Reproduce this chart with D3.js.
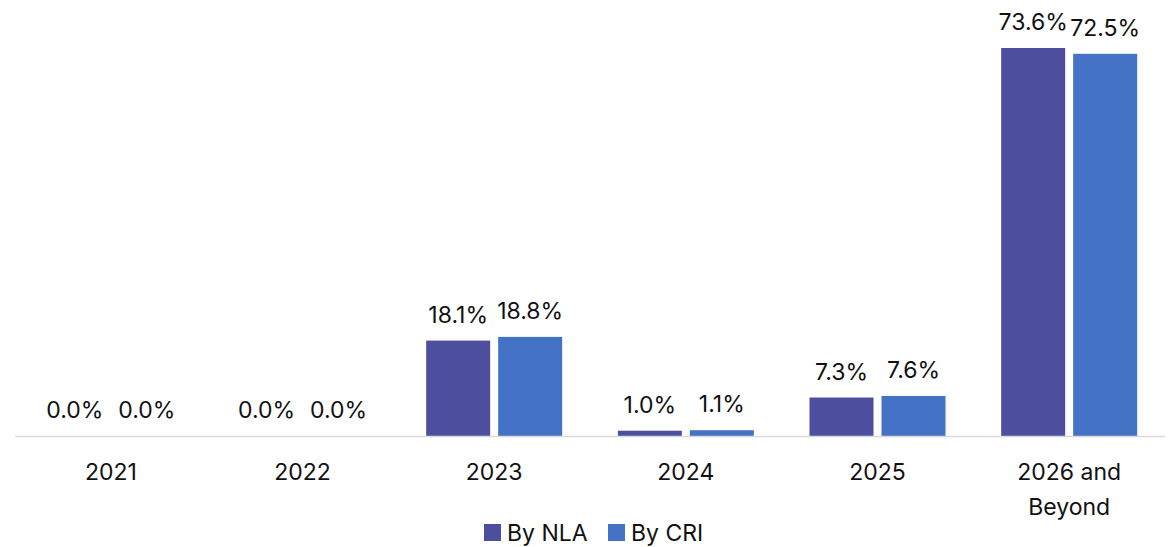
<!DOCTYPE html>
<html>
<head>
<meta charset="utf-8">
<script src="https://cdn.jsdelivr.net/npm/d3@7"></script>
<style>
body{margin:0;background:#fff;}
text{font-family:Inter,"Noto Sans",sans-serif;fill:#111;}
</style>
</head>
<body>
<script>
var categories = ['2021', '2022', '2023', '2024', '2025', '2026 and Beyond'];
var seriesNames = ['By NLA', 'By CRI'];
var byNLA = [0.0, 0.0, 18.1, 1.0, 7.3, 73.6];
var byCRI = [0.0, 0.0, 18.8, 1.1, 7.6, 72.5];
var colors = ['#4D4F9E', '#4472C4'];

var width = 1175, height = 547;
var left = 15, right = 1165, base = 436;

var svg = d3.select('body').append('svg')
	.attr('width', width)
	.attr('height', height);

var x = d3.scaleBand()
	.domain(categories)
	.range([left, right]);

var y = d3.scaleLinear()
	.domain([0, 73.6])
	.range([base, 48]);

var inner = d3.scaleBand()
	.domain(seriesNames)
	.range([-68, 68])
	.paddingInner(8 / 72);

var data = categories.map(function(c, i){
	return {cat: c, values: [byNLA[i], byCRI[i]]};
});

var groups = svg.selectAll('g.cat')
	.data(data)
	.enter()
	.append('g')
	.attr('class', 'cat')
	.attr('transform', function(d){return 'translate(' + (x(d.cat) + x.bandwidth() / 2) + ',0)'});

groups.selectAll('rect')
	.data(function(d){return d.values})
	.enter()
	.append('rect')
	.attr('x', function(d, i){return inner(seriesNames[i])})
	.attr('width', inner.bandwidth())
	.attr('y', function(d){return y(d)})
	.attr('height', function(d){return base - y(d)})
	.style('fill', function(d, i){return colors[i]});

groups.selectAll('text.val')
	.data(function(d){return d.values})
	.enter()
	.append('text')
	.attr('class', 'val')
	.attr('x', function(d, i){return inner(seriesNames[i]) + inner.bandwidth() / 2})
	.attr('y', function(d){return y(d) - 18})
	.attr('text-anchor', 'middle')
	.style('font-size', '23px')
	.text(function(d){return d.toFixed(1) + '%'});

// baseline
svg.append('line')
	.attr('x1', left).attr('x2', right)
	.attr('y1', base + 0.5).attr('y2', base + 0.5)
	.style('stroke', '#d9d9d9')
	.style('stroke-width', 1.5);

// category labels, wrapped
groups.append('text')
	.attr('text-anchor', 'middle')
	.style('font-size', '23px')
	.selectAll('tspan')
	.data(function(d){
		return d.cat.length > 10 ? ['2026 and', 'Beyond'] : [d.cat];
	})
	.enter()
	.append('tspan')
	.attr('x', 0)
	.attr('y', function(d, i){return 480 + i * 35})
	.text(function(d){return d});

// legend
var legend = svg.append('g');
var legendX = [484, 608];
seriesNames.forEach(function(name, i){
	legend.append('rect')
		.attr('x', legendX[i]).attr('y', 524)
		.attr('width', 17).attr('height', 17)
		.style('fill', colors[i]);
	legend.append('text')
		.attr('x', legendX[i] + 23).attr('y', 541)
		.style('font-size', '23px')
		.text(name);
});
</script>
</body>
</html>
